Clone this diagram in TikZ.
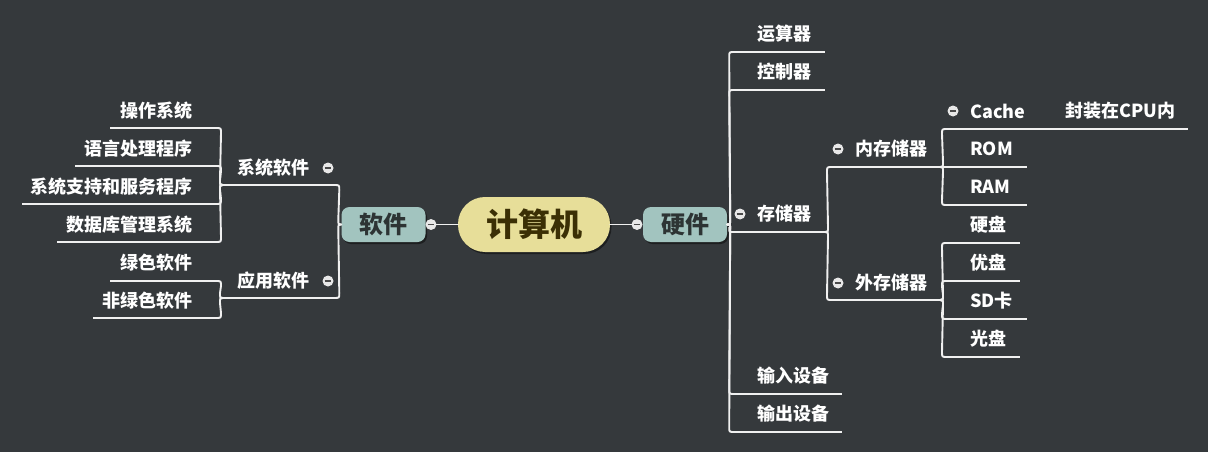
\documentclass[tikz,border=0pt]{standalone}
\usepackage{fontspec}
\setmainfont{Noto Sans CJK SC}
\usetikzlibrary{shadows,calc}
\definecolor{bg}{HTML}{35393C}
\definecolor{ln}{HTML}{F0F0F0}
\definecolor{rootfill}{HTML}{E7DE99}
\definecolor{roottext}{HTML}{3B2F05}
\definecolor{mainfill}{HTML}{A2C4BF}
\definecolor{maintext}{HTML}{2D3434}
\definecolor{knobfill}{HTML}{E8E8E8}
\definecolor{knobbar}{HTML}{4A4A4A}
\newcommand{\brc}[2]{\draw[conn] let \p1=(#1), \p2=(#2), \n1={sign(\x2-\x1)}, \n2={sign(\y2-\y1)}, \n3={min(5,abs(\y2-\y1)/2)} in (\p1) .. controls ({\x1+3*\n1},\y1) .. ({\x1+3*\n1},{\y1+\n2*\n3}) -- ({\x1+2*\n1},{\y2-\n2*\n3}) .. controls ({\x1+2*\n1},\y2) .. ({\x1+2*\n1+\n1*\n3},\y2) -- (\p2);}
\tikzset{
  conn/.style={draw=ln, line width=1.9pt, line cap=round},
  ul/.style={draw=ln, line width=1.9pt},
  rl/.style={anchor=west, text=white, inner sep=0pt, font=\fontsize{18}{20}\selectfont\bfseries},
  ll/.style={anchor=east, text=white, inner sep=0pt, font=\fontsize{18}{20}\selectfont\bfseries},
  root/.style={fill=rootfill, text=roottext, minimum width=152pt, minimum height=55pt, rounded corners=27pt, inner sep=0pt, font=\fontsize{32}{36}\selectfont\bfseries, drop shadow={shadow xshift=1.5pt, shadow yshift=-2pt, opacity=0.45, fill=black}},
  mainbox/.style={fill=mainfill, text=maintext, minimum width=84pt, minimum height=35pt, rounded corners=8pt, inner sep=0pt, font=\fontsize{24}{28}\selectfont\bfseries, drop shadow={shadow xshift=1.5pt, shadow yshift=-2pt, opacity=0.45, fill=black}},
  knob/.style={circle, fill=knobfill, minimum size=11pt, inner sep=0pt,
    path picture={\draw[knobbar, line width=1.8pt] ([xshift=-3.4pt]path picture bounding box.center) -- ([xshift=3.4pt]path picture bounding box.center);}}
}
\begin{document}
\begin{tikzpicture}[x=1pt, y=1pt]
\fill[bg] (0,0) rectangle (1208,-452);
\useasboundingbox (0,0) rectangle (1208,-452);

% central
\node[root] (root) at (534,-224.5) {计算机};
\node[mainbox] (sw) at (383.5,-224.5) {软件};
\node[mainbox] (hw) at (685,-224.5) {硬件};
\node[knob] (ksw) at (431,-224.5) {};
\node[knob] (khw) at (637,-224.5) {};
\draw[conn] (root.west) -- (ksw.east);
\draw[conn] (root.east) -- (khw.west);

% ---------- right side ----------
\node[rl] (ys) at (757,-34) {运算器};
\coordinate (ysL) at (735,-52); \coordinate (ysR) at (825,-52);
\node[rl] (kz) at (757,-72) {控制器};
\coordinate (kzL) at (735,-90); \coordinate (kzR) at (825,-90);
\node[rl] (cc) at (757,-214) {存储器};
\node[knob] (kcc) at (740,-214) {};
\coordinate (ccL) at (735,-232); \coordinate (ccR) at (825,-232);
\node[rl] (sr) at (757,-376) {输入设备};
\coordinate (srL) at (735,-394); \coordinate (srR) at (842,-394);
\node[rl] (sc) at (757,-414) {输出设备};
\coordinate (scL) at (735,-432); \coordinate (scR) at (842,-432);

\node[rl] (nc) at (855,-149) {内存储器};
\node[knob] (knc) at (838,-149) {};
\coordinate (ncL) at (832,-167); \coordinate (ncR) at (940,-167);
\node[rl] (wc) at (855,-283) {外存储器};
\node[knob] (kwc) at (838,-283) {};
\coordinate (wcL) at (832,-300); \coordinate (wcR) at (940,-300);

\node[rl] (cache) at (970,-111) {Cache};
\node[knob] (kcache) at (953,-111) {};
\coordinate (cacheL) at (947,-129); \coordinate (cacheR) at (1035,-129);
\node[rl] (fz) at (1065,-111) {封装在CPU内};
\coordinate (fzR) at (1188,-129);
\node[rl] (rom) at (970,-149) {ROM};
\coordinate (romL) at (947,-167); \coordinate (romR) at (1027,-167);
\node[rl] (ram) at (970,-187) {RAM};
\coordinate (ramL) at (947,-205); \coordinate (ramR) at (1027,-205);
\node[rl] (yp) at (970,-225) {硬盘};
\coordinate (ypL) at (947,-243); \coordinate (ypR) at (1020,-243);
\node[rl] (up) at (970,-263) {优盘};
\coordinate (upL) at (947,-281); \coordinate (upR) at (1020,-281);
\node[rl] (sd) at (970,-301) {SD卡};
\coordinate (sdL) at (947,-319); \coordinate (sdR) at (1027,-319);
\node[rl] (gp) at (970,-339) {光盘};
\coordinate (gpL) at (947,-357); \coordinate (gpR) at (1020,-357);

\foreach \n in {ys,kz,cc,sr,sc,nc,wc,cache,rom,ram,yp,up,sd,gp}{\draw[ul] (\n L) -- (\n R);}
\draw[ul] (cacheR) -- (fzR);

\brc{hw.east}{ysL}
\brc{hw.east}{kzL}
\brc{hw.east}{ccL}
\brc{hw.east}{srL}
\brc{hw.east}{scL}
\brc{ccR}{ncL}
\brc{ccR}{wcL}
\brc{ncR}{cacheL}
\draw[conn] (ncR) -- (romL);
\brc{ncR}{ramL}
\brc{wcR}{ypL}
\brc{wcR}{upL}
\brc{wcR}{sdL}
\brc{wcR}{gpL}

% ---------- left side ----------
\node[rl] (xtrj) at (237,-168) {系统软件};
\node[knob] (kxtrj) at (328,-168) {};
\coordinate (xtrjL) at (223,-185); \coordinate (xtrjR) at (333,-185);
\node[rl] (yyrj) at (237,-281) {应用软件};
\node[knob] (kyyrj) at (328,-281) {};
\coordinate (yyrjL) at (223,-298); \coordinate (yyrjR) at (333,-298);

\node[ll] (czxt) at (193,-111) {操作系统};
\coordinate (czxtL) at (110,-128); \coordinate (czxtR) at (218,-128);
\node[ll] (yy) at (193,-149) {语言处理程序};
\coordinate (yyL) at (75,-166); \coordinate (yyR) at (218,-166);
\node[ll] (xtzc) at (193,-187) {系统支持和服务程序};
\coordinate (xtzcL) at (22,-204); \coordinate (xtzcR) at (218,-204);
\node[ll] (sjk) at (193,-225) {数据库管理系统};
\coordinate (sjkL) at (57,-242); \coordinate (sjkR) at (218,-242);
\node[ll] (ls) at (193,-263) {绿色软件};
\coordinate (lsL) at (110,-281); \coordinate (lsR) at (218,-281);
\node[ll] (fls) at (193,-301) {非绿色软件};
\coordinate (flsL) at (93,-318); \coordinate (flsR) at (218,-318);

\foreach \n in {xtrj,yyrj,czxt,yy,xtzc,sjk,ls,fls}{\draw[ul] (\n L) -- (\n R);}

\brc{sw.west}{xtrjR}
\brc{sw.west}{yyrjR}
\brc{xtrjL}{czxtR}
\brc{xtrjL}{yyR}
\brc{xtrjL}{xtzcR}
\brc{xtrjL}{sjkR}
\brc{yyrjL}{lsR}
\brc{yyrjL}{flsR}
\end{tikzpicture}
\end{document}
